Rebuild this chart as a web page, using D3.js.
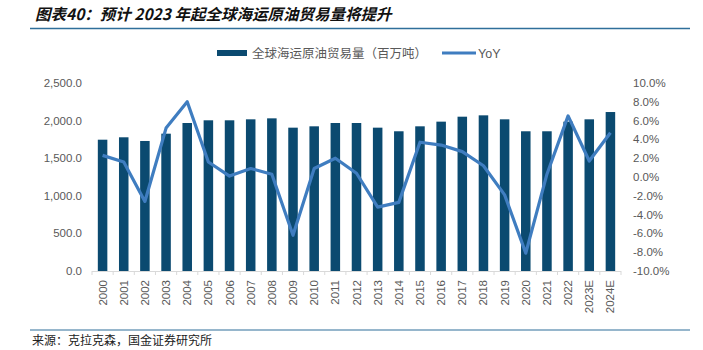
<!DOCTYPE html>
<html><head><meta charset="utf-8">
<script src="https://cdn.jsdelivr.net/npm/d3@7/dist/d3.min.js"></script>
<style>body{margin:0;background:#fff;}svg{display:block;}</style>
</head><body><svg id="c" width="703" height="350"></svg>
<script>
const categories = ["2000","2001","2002","2003","2004","2005","2006","2007","2008","2009","2010","2011","2012","2013","2014","2015","2016","2017","2018","2019","2020","2021","2022","2023E","2024E"];
const volume = [1746,1778,1729,1826,1968,2004,2004,2017,2030,1906,1924,1968,1968,1906,1858,1924,1986,2052,2070,2017,1858,1858,1986,2017,2114];
const yoy = [2.3,1.6,-2.6,5.2,8.0,1.6,0.1,0.9,0.3,-6.2,0.9,2.0,0.4,-3.2,-2.7,3.7,3.4,2.7,1.2,-1.9,-8.1,0.3,6.5,1.7,4.7];
const leftTicks = [0,500,1000,1500,2000,2500];
const rightTicks = [-10,-8,-6,-4,-2,0,2,4,6,8,10];
const title = "图表40：预计 2023 年起全球海运原油贸易量将提升";
const source = "来源：克拉克森，国金证券研究所";
const seriesNames = ["全球海运原油贸易量（百万吨）","YoY"];

const svg = d3.select("#c");
const barColor = "#0b4a70", lineColor = "#3f7dc0", textColor = "#595959";
const font = "'Liberation Sans', Arial, sans-serif";

const x = d3.scaleBand().domain(categories).range([92,621]).paddingInner(0.55).paddingOuter(0.275);
const yL = d3.scaleLinear().domain([0,2500]).range([271,83]);
const yR = d3.scaleLinear().domain([-10,10]).range([271,83]);

// title
svg.append("text").attr("x",35).attr("y",20).text(title)
  .attr("font-family","'Noto Sans CJK SC', sans-serif").attr("font-weight","bold")
  .attr("font-style","italic").attr("font-size",15.5).attr("fill","#111");
svg.append("line").attr("x1",30).attr("x2",690).attr("y1",28.5).attr("y2",28.5)
  .attr("stroke","#2f6f9a").attr("stroke-width",1.5);

// legend
svg.append("rect").attr("x",217).attr("y",50).attr("width",30).attr("height",6).attr("fill",barColor);
svg.append("text").attr("x",252).attr("y",58).text(seriesNames[0])
  .attr("font-family","'Noto Sans CJK SC', sans-serif").attr("font-size",12.5).attr("fill",textColor);
svg.append("line").attr("x1",442).attr("x2",476).attr("y1",53).attr("y2",53)
  .attr("stroke",lineColor).attr("stroke-width",3);
svg.append("text").attr("x",478).attr("y",58).text(seriesNames[1])
  .attr("font-family",font).attr("font-size",12.5).attr("fill",textColor);

// bars
svg.append("g").selectAll("rect").data(categories).join("rect")
  .attr("x",d=>x(d)).attr("width",x.bandwidth())
  .attr("y",(d,i)=>yL(volume[i])).attr("height",(d,i)=>yL(0)-yL(volume[i]))
  .attr("fill",barColor);

// x axis
const gx = svg.append("g").attr("transform","translate(0,271)");
gx.append("line").attr("x1",92).attr("x2",621).attr("y1",0.5).attr("y2",0.5).attr("stroke","#d9d9d9");
const bounds = d3.range(categories.length+1).map(i=>92 + i*(621-92)/categories.length);
gx.selectAll("line.t").data(bounds).join("line").attr("class","t")
  .attr("x1",d=>d).attr("x2",d=>d).attr("y1",0).attr("y2",4).attr("stroke","#d9d9d9");
gx.selectAll("text").data(categories).join("text")
  .attr("transform",d=>`translate(${x(d)+x.bandwidth()/2+4},9) rotate(-90)`)
  .attr("text-anchor","end").text(d=>d)
  .attr("font-family",font).attr("font-size",11.5).attr("fill",textColor);

// left axis
svg.append("g").selectAll("text").data(leftTicks).join("text")
  .attr("x",82).attr("y",d=>yL(d)+4).attr("text-anchor","end")
  .text(d=>d3.format(",.1f")(d))
  .attr("font-family",font).attr("font-size",11.5).attr("fill",textColor);

// right axis
svg.append("g").selectAll("text").data(rightTicks).join("text")
  .attr("x",633).attr("y",d=>yR(d)+4).attr("text-anchor","start")
  .text(d=>d.toFixed(1)+"%")
  .attr("font-family",font).attr("font-size",11.5).attr("fill",textColor);

// line
const line = d3.line().x((d,i)=>x(categories[i])+x.bandwidth()/2).y(d=>yR(d));
svg.append("path").datum(yoy).attr("d",line).attr("fill","none")
  .attr("stroke",lineColor).attr("stroke-width",3.2).attr("stroke-linejoin","round");

// footer
svg.append("line").attr("x1",30).attr("x2",690).attr("y1",330).attr("y2",330)
  .attr("stroke","#2f6f9a").attr("stroke-width",1.2);
svg.append("text").attr("x",32).attr("y",345).text(source)
  .attr("font-family","'Noto Sans CJK SC', serif").attr("font-size",12).attr("fill","#222");
</script></body></html>
